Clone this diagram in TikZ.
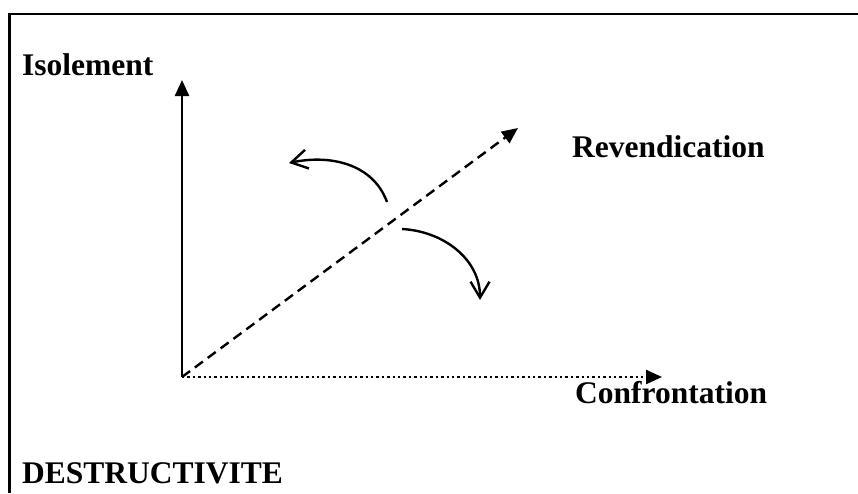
\documentclass[tikz,border=0pt]{standalone}
\usepackage{fontspec}
\setmainfont{Liberation Serif}
\usetikzlibrary{arrows.meta}
\begin{document}
\begin{tikzpicture}[x=1pt,y=-1pt,
  lbl/.style={font=\fontsize{31.5}{37}\selectfont\bfseries, anchor=base west, inner sep=0pt},
  axis/.style={line width=2.4pt, -{Triangle[length=16pt,width=14pt]}},
  bendarrow/.style={line width=2.4pt, -{Straight Barb[length=16pt,width=19pt]}},
  frame/.style={line width=2.2pt}]
\useasboundingbox (0,0) rectangle (858,493);
% frame (top and left edges visible)
\coordinate (fbl) at (9.5,493);
\coordinate (ftl) at (9.5,14);
\coordinate (ftr) at (858,14);
\draw[frame] (fbl) -- (ftl) -- (ftr);
% axes
\coordinate (o) at (182,377);
\coordinate (ytip) at (182,80);
\coordinate (xtip) at (662,377);
\coordinate (dtip) at (518,128);
\draw[axis] (o) -- (ytip);
\draw[axis, dash pattern=on 2.4pt off 3pt] (o) -- (xtip);
\draw[axis, dash pattern=on 10pt off 6pt] (o) -- (dtip);
% curved arrows
\coordinate (a1s) at (387,202);
\coordinate (a1e) at (289,163);
\coordinate (a2s) at (402,229);
\coordinate (a2e) at (480,300);
\draw[bendarrow] (a1s) to[out=110, in=12] (a1e);
\draw[bendarrow] (a2s) to[out=-3, in=90] (a2e);
% labels
\node[lbl] (iso) at (22,75) {Isolement};
\node[lbl] (rev) at (572,157) {Revendication};
\node[lbl] (conf) at (575,403) {Confrontation};
\node[lbl] (dest) at (22,483) {DESTRUCTIVITE};
\end{tikzpicture}
\end{document}
